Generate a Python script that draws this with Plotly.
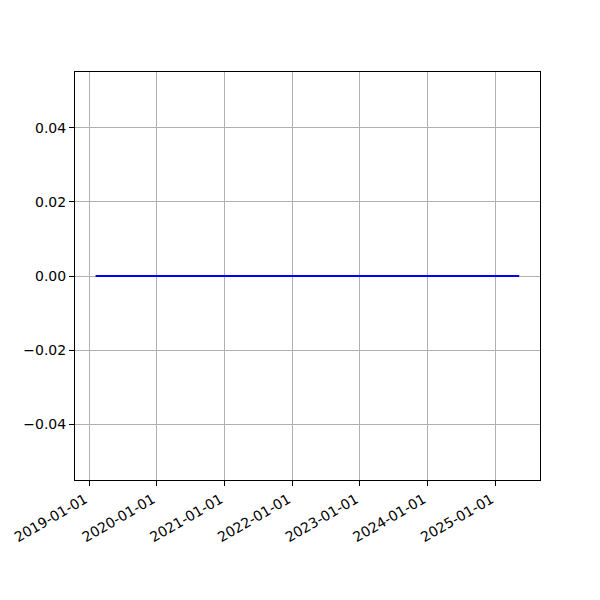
import plotly.graph_objects as go

dates = ["2019-02-05", "2020-02-05", "2021-02-05", "2022-02-05", "2023-02-05", "2024-02-05", "2025-05-10"]
values = [0, 0, 0, 0, 0, 0, 0]

x_ticks = ["2019-01-01", "2020-01-01", "2021-01-01", "2022-01-01", "2023-01-01", "2024-01-01", "2025-01-01"]
y_ticks = [-0.04, -0.02, 0.0, 0.02, 0.04]
y_labels = [("\u2212" if v < 0 else "") + f"{abs(v):.2f}" for v in y_ticks]

fig = go.Figure()
fig.add_trace(go.Scatter(x=dates, y=values, mode="lines",
                         line=dict(color="blue", width=2), showlegend=False))

axis_common = dict(showline=True, linecolor="black", linewidth=1, mirror=True,
                   ticks="outside", ticklen=5, tickcolor="black", tickwidth=1,
                   showgrid=True, gridcolor="#b0b0b0", gridwidth=1, zeroline=False,
                   automargin=False,
                   tickfont=dict(family="DejaVu Sans", size=14, color="black"))

fig.update_xaxes(type="date", range=["2018-10-17", "2025-08-30"],
                 tickvals=x_ticks, ticktext=x_ticks, tickangle=-30,
                 ticklabelshift=-4, **axis_common)
fig.update_yaxes(range=[-0.055, 0.055], tickvals=y_ticks, ticktext=y_labels, **axis_common)

fig.update_layout(width=600, height=600, plot_bgcolor="white", paper_bgcolor="white",
                  margin=dict(l=67, r=68, t=64, b=128), autosize=False)

fig.write_html("out.html")
